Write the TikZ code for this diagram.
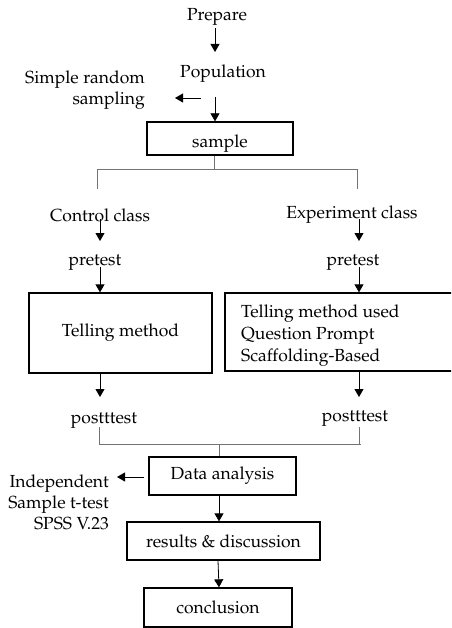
\documentclass[tikz,border=0pt]{standalone}
\usepackage[T1]{fontenc}
\usepackage{mathpazo}
\usetikzlibrary{arrows.meta}
\begin{document}
\begin{tikzpicture}[x=1pt,y=-1pt,
  font=\fontsize{17.5}{21}\selectfont,
  box/.style={draw, line width=1.3pt, inner sep=0pt},
  lbl/.style={inner sep=1pt, yshift=-2pt},
  arr/.style={-{Triangle[length=8pt,width=9pt]}, line width=0.8pt},
  tree/.style={draw=black!55, line width=1pt}]
\clip (0,0) rectangle (451,628);
% text nodes
\node[lbl] (prep) at (217,15) {Prepare};
\node[lbl] (pop) at (223,72) {Population};
\node[lbl, align=right, anchor=east] (srs) at (146,88) {Simple random\\sampling};
\node[box, minimum width=146, minimum height=33] (sample) at (220,138.5) {};
\node[lbl] (sampletxt) at (220,142) {sample};
\node[lbl] (cc) at (100,213) {Control class};
\node[lbl] (ec) at (352,213) {Experiment class};
\node[lbl] (prl) at (95,261) {pretest};
\node[lbl] (prr) at (353,261) {pretest};
\node[box, minimum width=183, minimum height=80] (lbox) at (120.5,333) {Telling method};
\node[box, minimum width=250, minimum height=78] (rbox) at (350,332) {};
\node[lbl, align=left, anchor=west, font=\fontsize{17.5}{22}\selectfont] (rtxt) at (240,334)
  {Telling method used\\Question Prompt\\Scaffolding-Based};
\node[lbl] (ptl) at (104,419) {postttest};
\node[lbl] (ptr) at (355,417) {postttest};
\node[box, minimum width=147, minimum height=38] (data) at (222.5,476) {Data analysis};
\node[lbl, align=right, anchor=east] (ind) at (110,500) {Independent\\Sample t-test\\SPSS V.23};
\node[box, minimum width=193, minimum height=38] (res) at (223.5,541) {results \& discussion};
\node[box, minimum width=148, minimum height=39] (conc) at (218,607.5) {conclusion};
% coordinates
\coordinate (a1) at (215,28);
\coordinate (a1e) at (215,52);
\coordinate (a2) at (201,98);
\coordinate (a2e) at (175,98);
\coordinate (a3) at (215,97);
\coordinate (split) at (214,170);
\coordinate (tl) at (97,189);
\coordinate (tr) at (357,189);
\coordinate (b1) at (100,219);
\coordinate (b1e) at (100,241);
\coordinate (b2) at (359,219);
\coordinate (b2e) at (359,241);
\coordinate (c1) at (100,267);
\coordinate (c2) at (359,267);
\coordinate (d1e) at (100,397);
\coordinate (d2e) at (359,397);
\coordinate (e1) at (99,427);
\coordinate (e2) at (359,427);
\coordinate (join) at (219,444);
\coordinate (eend) at (361,444);
\coordinate (f1e) at (117,477);
% connectors
\draw[arr] (a1) -- (a1e);
\draw[arr] (a2) -- (a2e);
\draw[arr] (a3) -- (a3 |- sample.north);
\draw[tree] (split |- sample.south) -- (split);
\draw[tree] (tl) -- (tl |- split) -- (tr |- split) -- (tr);
\draw[arr] (b1) -- (b1e);
\draw[arr] (b2) -- (b2e);
\draw[arr] (c1) -- (c1 |- lbox.north);
\draw[arr] (c2) -- (c2 |- rbox.north);
\draw[arr] (d1e |- lbox.south) -- (d1e);
\draw[arr] (d2e |- rbox.south) -- (d2e);
\draw[tree] (e1) |- (eend);
\draw[tree] (e2) -- (e2 |- join);
\draw[tree] (join) -- (join |- data.north);
\draw[arr] (data.west |- f1e) ++(-4,0) -- (f1e);
\draw[arr] ([xshift=-3.5pt]data.south) -- ([xshift=-4.5pt]res.north);
\draw[arr] ([xshift=-5.5pt]res.south) -- ([xshift=1pt]conc.north);
\end{tikzpicture}
\end{document}
